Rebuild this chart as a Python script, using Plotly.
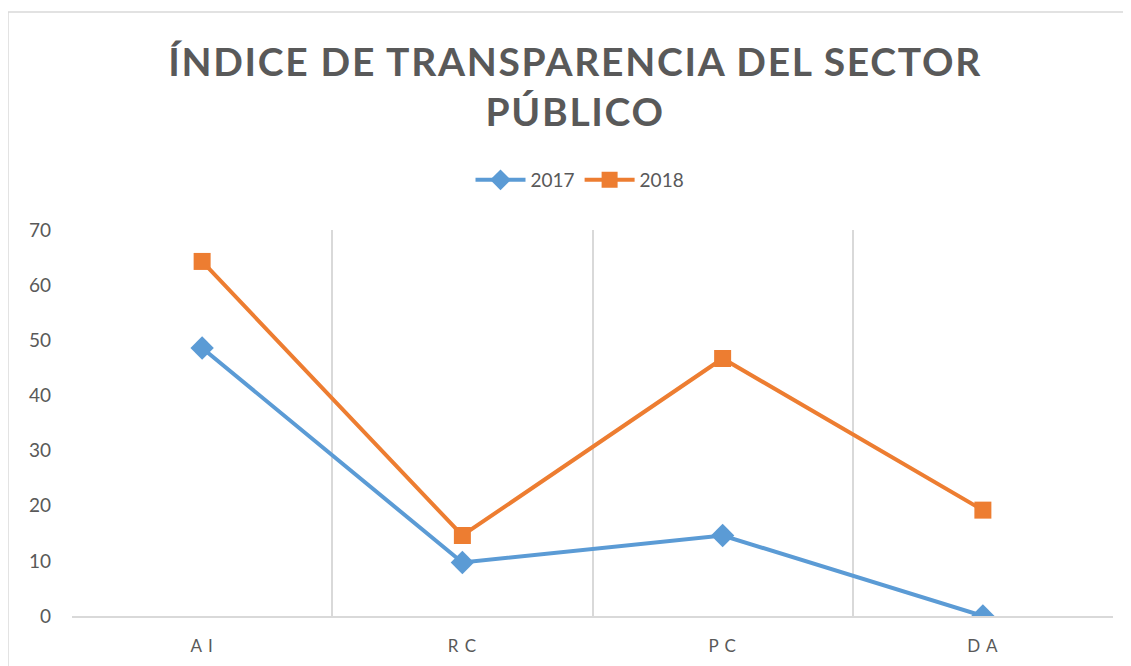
import plotly.graph_objects as go

categories = ["A I", "R C", "P C", "D A"]
series_names = ["2017", "2018"]
values_2017 = [48.6, 9.7, 14.6, 0.0]
values_2018 = [64.3, 14.6, 46.7, 19.2]
y_ticks = [0, 10, 20, 30, 40, 50, 60, 70]

colors = {"2017": "#5b9bd5", "2018": "#ed7d31"}
symbols = {"2017": "diamond", "2018": "square"}
sizes = {"2017": 18, "2018": 17}
TXT = "#595959"
GRID = "#d9d9d9"
FONT = "Lato, Open Sans, sans-serif"

x_idx = list(range(len(categories)))

fig = go.Figure()
for name, vals in zip(series_names, [values_2017, values_2018]):
    fig.add_trace(go.Scatter(
        x=x_idx, y=vals, name=name, mode="lines+markers",
        line=dict(color=colors[name], width=4),
        marker=dict(symbol=symbols[name], size=sizes[name], color=colors[name]),
    ))

def spaced(t, px):
    return f'<span style="letter-spacing:{px}px">{t}</span>'

title_text = (spaced("ÍNDICE DE TRANSPARENCIA DEL SECTOR", 1.7) + "<br>" +
              spaced("PÚBLICO", 1.7))

# page body adds an 8px offset, so the figure is 8px smaller
W, H = 1123, 658
fig.update_layout(
    width=W, height=H,
    paper_bgcolor="white", plot_bgcolor="white",
    margin=dict(l=64, r=18, t=222, b=50, autoexpand=False),
    title=dict(text=title_text, x=0.505, xanchor="center", y=0.897, yanchor="middle",
               font=dict(family=FONT, size=39, color=TXT, weight="bold")),
    legend=dict(orientation="h", x=0.488, xanchor="center", y=1.1295, yanchor="middle",
                font=dict(family=FONT, size=19, color=TXT),
                itemwidth=50, bgcolor="rgba(0,0,0,0)"),
    showlegend=True,
)

fig.update_xaxes(
    range=[-0.5, len(categories) - 0.5],
    tickmode="array", tickvals=x_idx,
    ticktext=[spaced(c, 1) for c in categories],
    showgrid=False, zeroline=False, automargin=False,
    showline=True, linecolor=GRID, linewidth=2,
    ticks="", ticklabelstandoff=14,
    tickfont=dict(family=FONT, size=17, color=TXT),
    minor=dict(tickmode="array", tickvals=[i - 0.5 for i in range(len(categories) + 1)],
               showgrid=True, gridcolor=GRID, gridwidth=1.5, ticks=""),
    fixedrange=True,
)
fig.update_yaxes(
    range=[0, 70], tickmode="array", tickvals=y_ticks,
    showgrid=False, zeroline=False, showline=False, automargin=False,
    ticks="", ticklabelstandoff=20,
    tickfont=dict(family=FONT, size=19, color=TXT),
    fixedrange=True,
)

# chart-area frame
fig.add_shape(type="rect", xref="paper", yref="paper",
              x0=-0.0615, x1=1.0163, y0=-0.2, y1=1.5648,
              line=dict(color=GRID, width=1.5), fillcolor="rgba(0,0,0,0)", layer="below")

fig.write_html("out.html")
